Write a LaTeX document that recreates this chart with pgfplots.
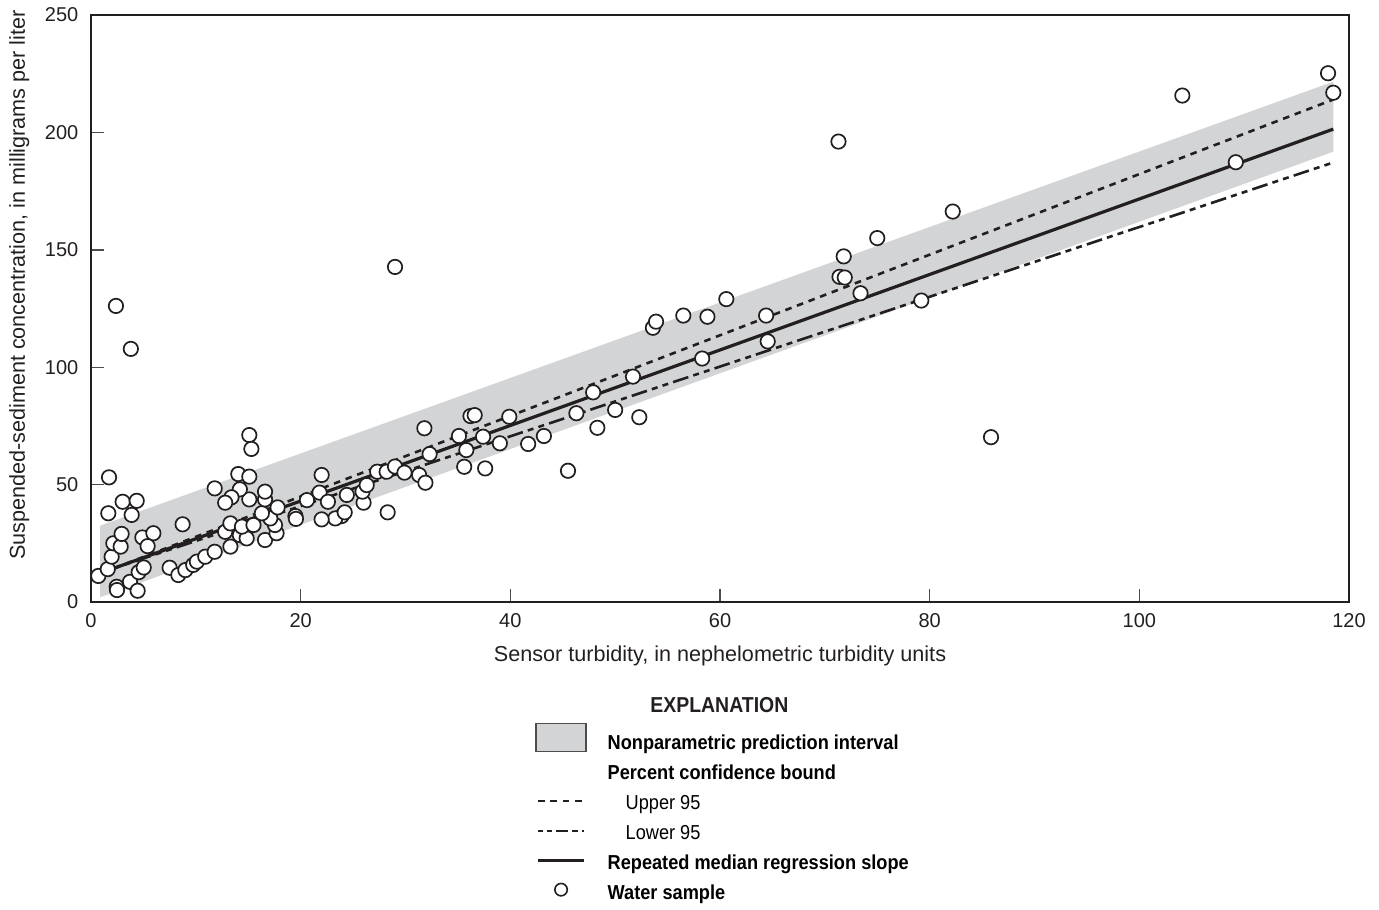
\documentclass[border=0pt]{standalone}
\usepackage{fontspec}
\setmainfont{Liberation Sans}
\newfontfamily\legfont{Liberation Sans}[FakeStretch=0.9]
\usepackage{pgfplots}
\pgfplotsset{compat=1.18}
\usepackage{pgfplotstable}

\definecolor{bandgray}{RGB}{211,212,214}
\definecolor{ink}{RGB}{35,31,32}

% water samples: sensor turbidity (FNU) vs SSC (mg/L)
\pgfplotstableread{
x y
0.70 11.1
1.60 14.0
1.97 19.3
2.13 25.0
2.83 23.6
2.92 29.0
1.65 37.8
3.88 37.1
3.02 42.7
4.36 43.1
1.72 53.1
2.45 6.5
2.48 5.1
3.72 8.6
4.45 4.8
4.55 12.7
5.03 14.7
4.90 27.5
5.95 29.3
5.40 23.8
8.74 33.1
7.50 14.6
8.33 11.5
9.00 13.6
9.75 15.8
10.1 17.2
10.9 19.3
11.8 21.4
13.3 23.6
12.8 29.9
13.3 33.5
14.2 28.5
14.85 27.1
14.4 32.1
15.5 32.8
16.6 26.4
17.7 29.3
17.55 32.8
17.1 35.6
16.3 37.8
17.8 40.3
16.6 43.7
16.6 47.0
15.1 43.7
14.2 48.0
13.4 44.6
12.8 42.3
11.8 48.4
14.05 54.5
15.1 53.4
15.1 71.1
15.3 65.2
19.5 36.6
19.55 35.4
20.6 43.4
21.8 46.6
22.0 54.1
22.6 42.7
24.4 45.6
23.9 36.6
23.3 35.6
22.0 35.2
24.2 38.2
26.0 42.3
25.9 47.0
26.3 49.8
27.3 55.5
28.2 55.5
29.0 57.7
28.3 38.2
29.9 55.1
31.3 54.1
31.9 50.8
31.8 74.0
32.3 63.0
29.0 142.7
35.1 70.7
35.8 64.7
35.6 57.6
37.6 56.9
36.2 79.2
36.6 79.6
37.4 70.4
39.0 67.6
39.9 78.9
41.7 67.3
43.2 70.7
45.5 55.9
46.3 80.4
48.3 74.2
47.9 89.3
50.0 81.8
52.3 78.7
51.7 96.0
53.6 116.8
53.9 119.4
56.5 122.0
58.8 121.5
60.6 129.0
58.3 103.7
64.4 122.0
64.55 111.0
71.3 196.1
71.8 147.2
71.4 138.5
71.9 138.2
73.4 131.5
75.0 155.0
79.2 128.4
82.2 166.3
85.85 70.2
104.1 215.7
109.2 187.3
118.0 225.2
118.5 216.9
2.38 126.1
3.80 107.8
}\samples

\begin{document}
\begin{tikzpicture}
\begin{axis}[
    width=629pt, height=293.5pt, scale only axis,
    xmin=0, xmax=120, ymin=0, ymax=250,
    xtick={0,20,...,120}, ytick={0,50,...,250},
    tick align=inside, tick pos=left,
    major tick length=6.5pt,
    axis line style={ink, line width=0.7pt},
    tick style={black!70, line width=0.7pt},
    /pgf/number format/assume math mode=true,
    tick label style={font=\fontsize{10}{12}\selectfont, ink},
    yticklabel style={xshift=-2.8pt},
    xticklabel style={yshift=-2.3pt},
    label style={font=\fontsize{10.8}{13}\selectfont, ink},
    xlabel={Sensor turbidity, in nephelometric turbidity units},
    ylabel={Suspended-sediment concentration, in milligrams per liter},
    xlabel style={at={(axis description cs:0.5,-0.092)}, anchor=center},
    ylabel style={at={(axis description cs:-0.057,0.54)}, anchor=center},
    clip=false,
    legend style={draw=none, fill=none, inner sep=0pt,
      at={(axis description cs:0.353,-0.2055)}, anchor=north west,
      font=\legfont\fontsize{10.1}{12}\selectfont,
      nodes={inner sep=2.5pt, text depth=2.5pt, text height=7.5pt},
      row sep=0pt},
    legend cell align=left,
    /tikz/every odd column/.append style={column sep=8pt},
]
% prediction interval band
\addplot[fill=bandgray, draw=none, forget plot] coordinates
  {(0.86,2.0) (118.5,191.8) (118.5,221.6) (0.86,32.5)} -- cycle;
% confidence bounds and regression line
\addplot[ink, line width=1.3pt, dash pattern=on 3.3pt off 2.9pt, forget plot]
  coordinates {(2.2,14.4) (118.5,214.0)};
\addplot[ink, line width=1.3pt, dash pattern=on 3pt off 2.6pt on 3pt off 2.6pt on 8pt off 2.6pt, forget plot]
  coordinates {(2.2,14.4) (118.5,187.2)};
\addplot[ink, line width=1.6pt, forget plot]
  coordinates {(2.2,14.4) (118.5,201.4)};
% water samples
\addplot[only marks, mark=*, mark size=3.6pt,
  mark options={fill=white, draw=ink, line width=0.85pt}, forget plot]
  table[x=x, y=y] {\samples};

\node[font=\legfont\bfseries\fontsize{10.8}{13}\selectfont, ink]
  at (axis description cs:0.4995,-0.1755) {EXPLANATION};

\addlegendimage{legend image code/.code={
  \draw[fill=bandgray, draw=black!70, line width=0.6pt] (0pt,-3.5pt) rectangle (25pt,10.5pt);}}
\addlegendentry{\bfseries Nonparametric prediction interval}
\addlegendimage{empty legend}
\addlegendentry{\bfseries Percent confidence bound}
\addlegendimage{legend image code/.code={
  \draw[ink, line width=1.1pt, dash pattern=on 3.3pt off 2.9pt] (1pt,2pt) -- (24pt,2pt);}}
\addlegendentry{\hspace*{9pt}Upper 95}
\addlegendimage{legend image code/.code={
  \draw[ink, line width=1.1pt, dash pattern=on 2.6pt off 2pt on 2.6pt off 2pt on 6pt off 2pt] (1pt,2pt) -- (24pt,2pt);}}
\addlegendentry{\hspace*{9pt}Lower 95}
\addlegendimage{legend image code/.code={
  \draw[ink, line width=1.4pt] (1pt,2pt) -- (24pt,2pt);}}
\addlegendentry{\bfseries Repeated median regression slope}
\addlegendimage{legend image code/.code={
  \draw[ink, line width=0.8pt, fill=white] (12.5pt,2.5pt) circle (3.1pt);}}
\addlegendentry{\bfseries Water sample}
\end{axis}
\path (current axis.south west) ++(-45.5pt,-152.5pt) coordinate (bl);
\path (current axis.north east) ++(15pt,7.5pt) coordinate (tr);
\path (bl) rectangle (tr);
\end{tikzpicture}
\end{document}
